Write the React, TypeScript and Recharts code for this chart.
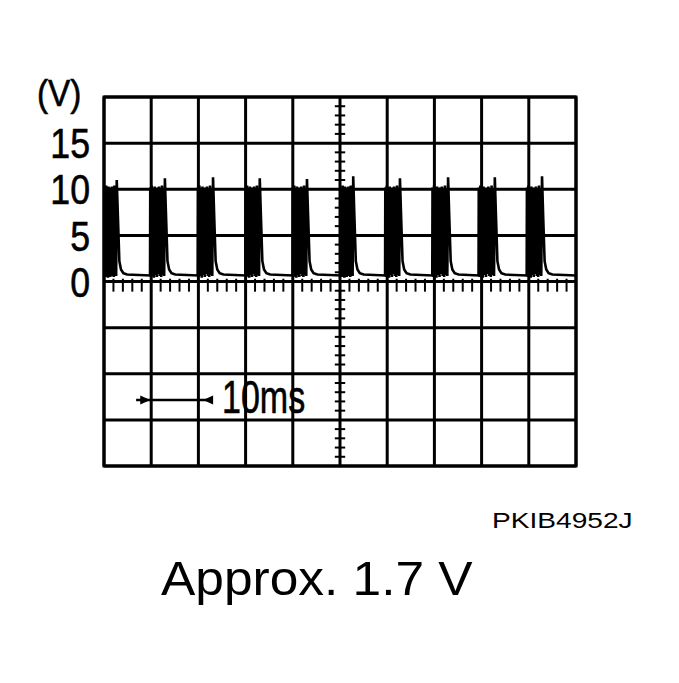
import {
  LineChart,
  Line,
  XAxis,
  YAxis,
  CartesianGrid,
  ReferenceLine,
  ReferenceArea,
  ReferenceDot,
} from 'recharts';

// axis divisions: 10 ms / div, 5 V / div
const timeTicks = [0, 10, 20, 30, 40, 50, 60, 70, 80, 90, 100];
const voltTicks = [-20, -15, -10, -5, 0, 5, 10, 15, 20];
const voltLabels = [0, 5, 10, 15];

// pulses (ms / V)
const pulseStart = [0.2, 9.8, 19.9, 30.0, 40.0, 50.3, 59.6, 69.6, 79.4, 89.6];
const pulseSpike = [2.7, 12.9, 23.1, 33.0, 43.0, 52.8, 62.7, 72.9, 82.8, 92.8];
const spikeVolt = [11.0, 11.2, 11.3, 11.2, 11.1, 11.4, 11.2, 11.3, 11.3, 11.4];
const baseVolt = 0.65;

// dense overlapping traces inside each pulse (fraction of width, V)
const fillFrac = [
  0.05, 0.1, 0.15, 0.2, 0.25, 0.3, 0.35, 0.4, 0.45, 0.5,
  0.55, 0.6, 0.65, 0.7, 0.75, 0.8, 0.85, 0.9, 0.95,
];
const fillVolt = [
  0.5, 10.4, 0.6, 10.1, 0.4, 10.3, 0.7, 10.0, 0.5, 10.2,
  0.8, 10.3, 0.6, 10.1, 0.5, 10.4, 0.7, 10.0, 0.6,
];

// decay after the spike (ms after spike, V)
const tailOffset = [0.25, 0.55, 0.9, 1.4, 2.2];
const tailVolt = [7.0, 2.2, 1.3, 0.9, 0.75];

const data: { t: number; v: number }[] = [{ t: 0, v: baseVolt }];
pulseStart.forEach((s, i) => {
  const w = pulseSpike[i] - s;
  if (s > 0.1) data.push({ t: s - 0.05, v: baseVolt });
  data.push({ t: s, v: 10.2 });
  fillFrac.forEach((f, j) => data.push({ t: s + f * w, v: fillVolt[j] }));
  data.push({ t: pulseSpike[i], v: spikeVolt[i] });
  tailOffset.forEach((o, j) => data.push({ t: pulseSpike[i] + o, v: tailVolt[j] }));
});
data.push({ t: 100, v: baseVolt });

// minor graticule ticks on the centre axes
const minorTime = timeTicks.slice(0, -1).flatMap((t) => [2, 4, 6, 8].map((d) => t + d));
const minorVolt = voltTicks.slice(0, -1).flatMap((v) => [1, 2, 3, 4].map((d) => v + d));

const FONT = '"Liberation Sans", Arial, sans-serif';

function VoltTick(props: any) {
  const { x, y, payload } = props;
  if (!voltLabels.includes(payload.value)) return <g />;
  return (
    <text
      transform={`translate(${x - 14},${y}) scale(0.85,1)`}
      textAnchor="end"
      dy="0.36em"
      fontSize={42}
      fontFamily={FONT}
      fill="#000"
      stroke="#000"
      strokeWidth={0.6}
    >
      {payload.value}
    </text>
  );
}

const arrowHead = (dir: number) => (props: any) => {
  const { cx, cy } = props;
  return (
    <polygon
      points={`${cx},${cy} ${cx - dir * 10},${cy - 4.5} ${cx - dir * 10},${cy + 4.5}`}
      fill="#000"
    />
  );
};

export default function App() {
  return (
    <div style={{ position: 'absolute', left: 0, top: 0, width: 679, height: 683, background: '#fff' }}>
      <LineChart
        width={679}
        height={683}
        data={data}
        margin={{ top: 97, right: 103, bottom: 217, left: 0 }}
      >
        <CartesianGrid stroke="#000" strokeWidth={3} />
        <XAxis dataKey="t" type="number" domain={[0, 100]} ticks={timeTicks} hide />
        <YAxis
          type="number"
          domain={[-20, 20]}
          ticks={voltTicks}
          width={104}
          axisLine={false}
          tickLine={false}
          tickSize={0}
          tickMargin={0}
          tick={<VoltTick />}
          interval={0}
        />
        <ReferenceArea x1={0} x2={100} y1={-20} y2={20} fillOpacity={0} stroke="#000" strokeWidth={3} />
        {minorVolt.map((v) => (
          <ReferenceLine
            key={'mv' + v}
            segment={[{ x: 48.9, y: v }, { x: 51.1, y: v }]}
            stroke="#000"
            strokeWidth={2}
          />
        ))}
        {minorTime.map((t) => (
          <ReferenceLine
            key={'mt' + t}
            segment={[{ x: t, y: 0.3 }, { x: t, y: -1.1 }]}
            stroke="#000"
            strokeWidth={2}
          />
        ))}
        <ReferenceLine
          segment={[{ x: 6.8, y: -12.85 }, { x: 22.6, y: -12.85 }]}
          stroke="#000"
          strokeWidth={2.5}
        />
        <ReferenceDot x={9.8} y={-12.85} r={5} shape={arrowHead(1)} />
        <ReferenceDot x={21.0} y={-12.85} r={5} shape={arrowHead(-1)} />
        <Line
          type="linear"
          dataKey="v"
          stroke="#000"
          strokeWidth={2.6}
          dot={false}
          activeDot={false}
          isAnimationActive={false}
        />
      </LineChart>
      <svg
        width={679}
        height={683}
        style={{ position: 'absolute', left: 0, top: 0, pointerEvents: 'none' }}
        fontFamily={FONT}
      >
        <text
          transform="translate(37,106) scale(0.9,1)"
          fontSize={37}
          fill="#000"
          stroke="#000"
          strokeWidth={0.6}
        >
          (V)
        </text>
        <text
          transform="translate(222,413) scale(0.74,1)"
          fontSize={46}
          fill="#000"
          stroke="#000"
          strokeWidth={0.6}
        >
          10ms
        </text>
        <text transform="translate(492,528) scale(1.25,1)" fontSize={22.5} fill="#000">
          PKIB4952J
        </text>
        <text transform="translate(161,595) scale(1.05,1)" fontSize={49} fill="#000">
          Approx. 1.7 V
        </text>
      </svg>
    </div>
  );
}
